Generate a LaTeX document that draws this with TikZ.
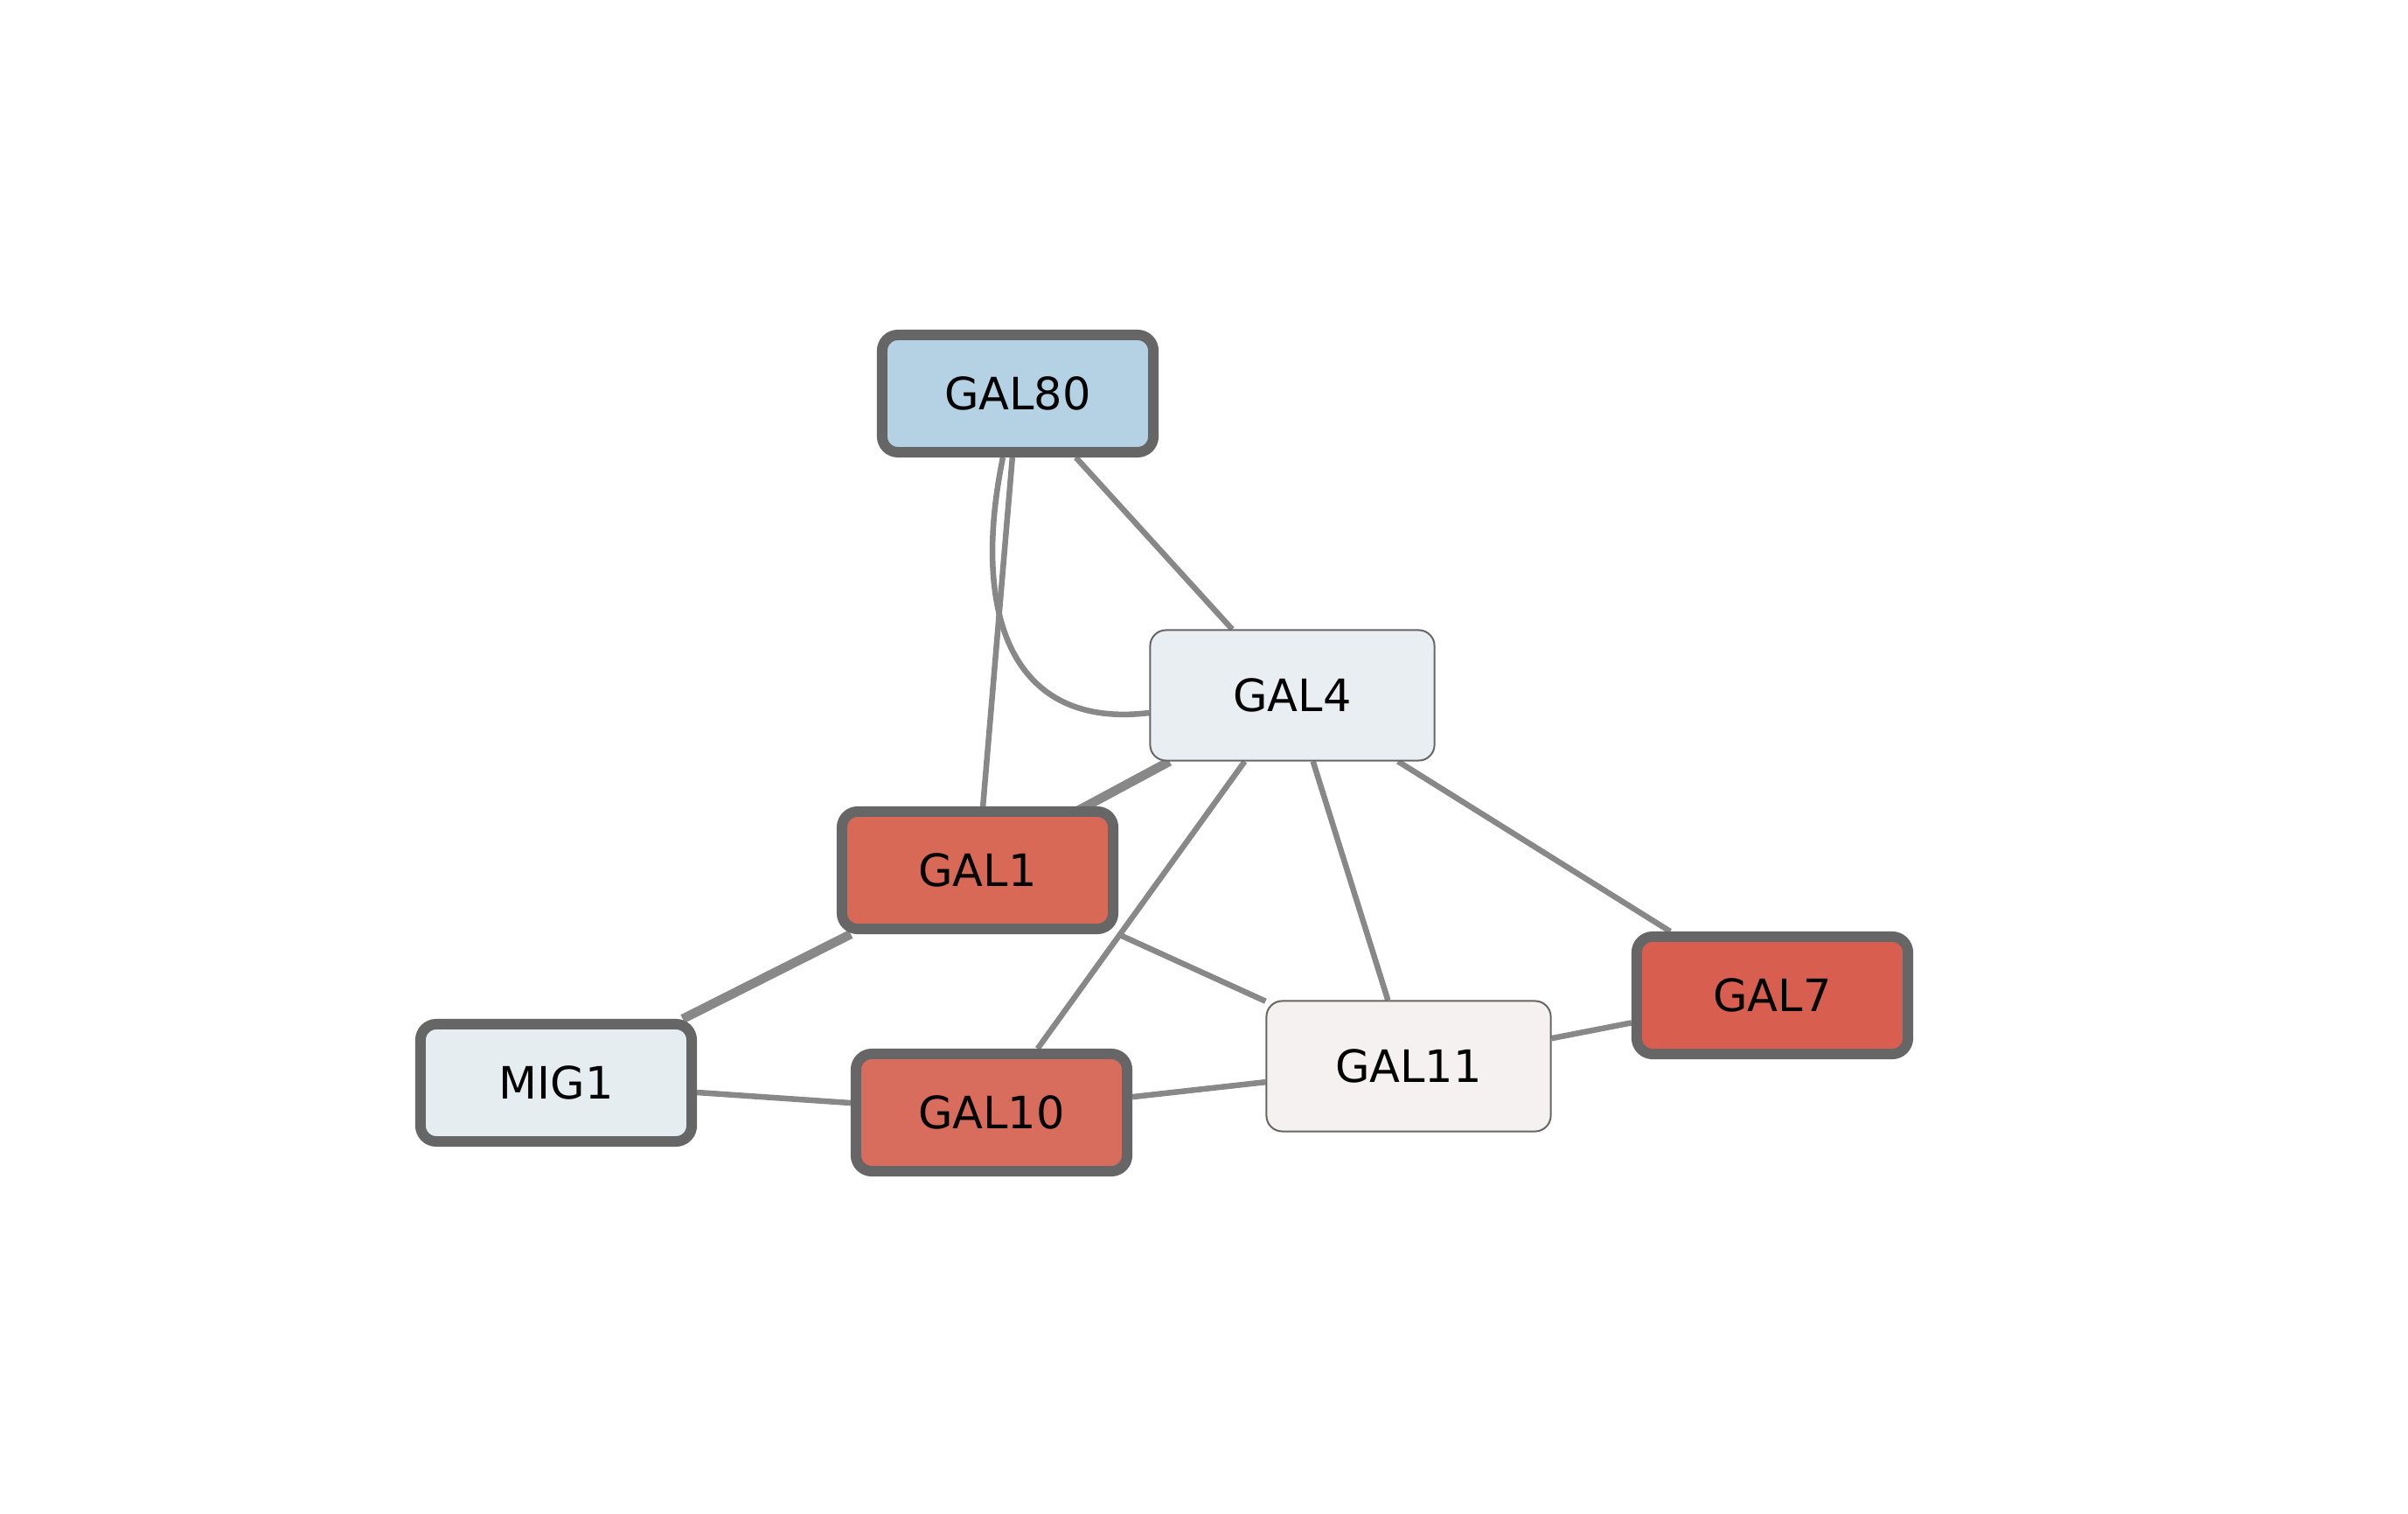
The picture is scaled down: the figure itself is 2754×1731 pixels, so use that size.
\documentclass[tikz,border=0pt]{standalone}
\usepackage{fontspec}
\setmainfont{DejaVu Sans}
\usetikzlibrary{backgrounds}
\definecolor{edgegray}{HTML}{888888}
\definecolor{bordergray}{HTML}{666666}
\definecolor{blueish}{HTML}{B4D2E4}
\definecolor{redA}{HTML}{D86957}
\definecolor{redB}{HTML}{D86C5D}
\definecolor{redC}{HTML}{D85F4F}
\definecolor{paleA}{HTML}{E6EDF1}
\definecolor{paleB}{HTML}{E9EEF2}
\definecolor{paleC}{HTML}{F4F1F0}
\begin{document}
\begin{tikzpicture}[x=0.01cm, y=-0.01cm,
  gene/.style={font=\fontsize{14.5}{16}\selectfont, text=black, rounded corners=0.18cm, inner sep=0pt},
  heavy/.style={gene, draw=bordergray, line width=0.12cm, minimum width=3.1cm, minimum height=1.34cm},
  light/.style={gene, draw=bordergray, line width=0.02cm, minimum width=3.25cm, minimum height=1.49cm},
  link/.style={draw=edgegray, line width=0.065cm},
  boldlink/.style={draw=edgegray, line width=0.105cm}]
\useasboundingbox (0,0) rectangle (2754,1731);

% genes
\node[heavy, fill=blueish] (gal80) at (1164,450) {GAL80};
\node[light, fill=paleB] (gal4) at (1478,795) {GAL4};
\node[heavy, fill=redA] (gal1) at (1118,995) {GAL1};
\node[heavy, fill=paleA] (mig1) at (636,1238) {MIG1};
\node[heavy, fill=redB] (gal10) at (1134,1272) {GAL10};
\node[light, fill=paleC] (gal11) at (1611,1219) {GAL11};
\node[heavy, fill=redC] (gal7) at (2027,1138) {GAL7};

% interactions, drawn beneath the genes
\begin{scope}[on background layer]
\fill[white] (0,0) rectangle (2754,1731);
\draw[link] (gal80) -- (gal4);
\draw[link] (gal80) -- (gal1);
\draw[link] ([xshift=-0.17cm]gal80.south) .. controls +(-37,181) and +(-157,19) .. ([yshift=-0.2cm]gal4.west);
\draw[boldlink] (gal4) -- ([xshift=-0.12cm]gal1.center);
\draw[link] (gal4) -- (gal10);
\draw[link] (gal4) -- (gal11);
\draw[link] (gal4) -- (gal7);
\draw[link] (gal1) -- (gal11);
\draw[boldlink] (gal1) -- (mig1);
\draw[link] (mig1) -- (gal10);
\draw[link] (gal10) -- (gal11);
\draw[link] (gal11) -- (gal7);
\end{scope}
\end{tikzpicture}
\end{document}
